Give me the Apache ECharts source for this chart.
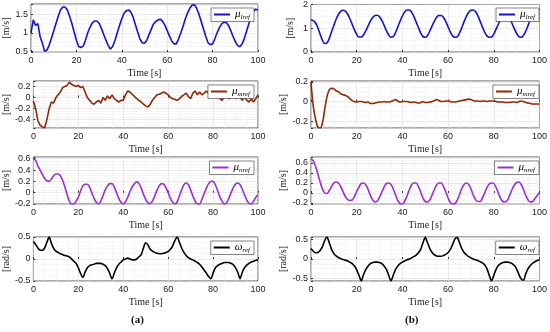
<!DOCTYPE html>
<html><head><meta charset="utf-8">
<script src="https://cdn.jsdelivr.net/npm/echarts@6/dist/echarts.min.js"></script>
<style>html,body{margin:0;padding:0;background:#fff}#c{width:550px;height:332px}</style>
</head><body><div id="c"></div>
<script>
const xTicks = [0, 20, 40, 60, 80, 100];
// (a) left column
const a_mu_l = [1.00,1.35,1.20,1.25,0.90,0.72,0.50,0.53,0.66,0.85,1.05,1.25,1.45,1.62,1.70,1.70,1.62,1.45,1.25,1.02,0.80,0.63,0.60,0.64,0.80,1.00,1.15,1.27,1.32,1.32,1.26,1.12,0.96,0.80,0.66,0.56,0.63,0.80,1.00,1.20,1.38,1.53,1.60,1.62,1.56,1.42,1.22,1.02,0.83,0.73,0.72,0.80,0.95,1.10,1.24,1.31,1.35,1.37,1.31,1.20,1.06,0.91,0.78,0.70,0.70,0.83,1.00,1.18,1.38,1.54,1.67,1.75,1.76,1.66,1.50,1.30,1.10,0.90,0.73,0.68,0.70,0.84,1.00,1.14,1.24,1.29,1.28,1.20,1.06,0.90,0.76,0.66,0.62,0.70,0.85,1.05,1.25,1.44,1.58,1.64,1.62];
const a_mu_m = [-0.06,-0.20,-0.42,-0.50,-0.53,-0.55,-0.40,-0.20,-0.08,-0.10,0.00,0.05,0.10,0.18,0.20,0.22,0.28,0.24,0.22,0.20,0.22,0.18,0.20,0.10,0.00,-0.05,-0.10,-0.12,-0.08,-0.05,-0.10,0.00,-0.05,0.03,-0.02,0.05,-0.02,-0.05,-0.08,-0.05,-0.05,0.05,0.12,0.10,0.06,0.02,-0.02,-0.05,-0.08,-0.12,-0.15,-0.17,-0.12,-0.05,0.00,0.05,0.06,0.08,0.10,0.08,0.05,0.00,-0.02,-0.03,-0.05,-0.02,0.02,0.05,0.08,0.02,-0.02,0.08,0.12,0.05,0.10,0.05,0.08,0.12,0.08,0.10,0.05,0.03,0.02,-0.02,-0.05,0.02,0.05,-0.02,0.00,0.05,-0.02,0.02,0.00,-0.05,0.02,-0.05,-0.08,-0.02,-0.08,-0.02,0.05];
const a_mu_n = [0.60,0.57,0.47,0.40,0.32,0.25,0.21,0.20,0.24,0.30,0.33,0.33,0.30,0.22,0.10,-0.03,-0.15,-0.20,-0.20,-0.15,-0.08,0.03,0.12,0.15,0.15,0.10,0.00,-0.10,-0.17,-0.20,-0.15,-0.05,0.05,0.12,0.16,0.16,0.10,0.00,-0.10,-0.17,-0.20,-0.16,-0.08,0.02,0.10,0.16,0.19,0.16,0.08,-0.03,-0.12,-0.18,-0.19,-0.15,-0.06,0.04,0.12,0.16,0.15,0.09,0.00,-0.10,-0.17,-0.20,-0.16,-0.06,0.05,0.14,0.17,0.14,0.05,-0.06,-0.15,-0.20,-0.20,-0.12,-0.02,0.08,0.16,0.20,0.20,0.14,0.04,-0.07,-0.15,-0.20,-0.18,-0.10,0.00,0.09,0.15,0.17,0.14,0.06,-0.04,-0.13,-0.19,-0.20,-0.15,-0.08,-0.04];
const a_w = [0.40,0.33,0.25,0.20,0.20,0.25,0.38,0.50,0.36,0.24,0.18,0.15,0.12,0.10,0.08,0.07,0.05,0.00,-0.05,-0.10,-0.20,-0.33,-0.42,-0.30,-0.20,-0.15,-0.13,-0.12,-0.10,-0.10,-0.10,-0.12,-0.15,-0.22,-0.33,-0.45,-0.32,-0.20,-0.12,-0.07,-0.02,0.00,0.02,0.00,-0.02,-0.02,0.00,0.05,0.10,0.25,0.37,0.32,0.22,0.18,0.15,0.13,0.12,0.12,0.13,0.15,0.17,0.22,0.30,0.42,0.50,0.38,0.25,0.15,0.08,0.03,0.00,-0.02,-0.05,-0.08,-0.12,-0.18,-0.25,-0.32,-0.40,-0.45,-0.32,-0.20,-0.15,-0.12,-0.10,-0.08,-0.08,-0.08,-0.10,-0.13,-0.20,-0.30,-0.45,-0.30,-0.20,-0.14,-0.10,-0.07,-0.05,-0.03,-0.02];
// (b) right column
const b_mu_l = [1.35,1.32,1.22,1.02,0.75,0.50,0.36,0.38,0.58,0.85,1.12,1.38,1.58,1.71,1.76,1.72,1.60,1.40,1.17,0.93,0.74,0.63,0.63,0.73,0.90,1.10,1.30,1.45,1.54,1.55,1.48,1.33,1.12,0.90,0.72,0.62,0.65,0.82,1.06,1.30,1.52,1.68,1.77,1.77,1.68,1.50,1.27,1.03,0.80,0.65,0.62,0.70,0.88,1.10,1.30,1.46,1.54,1.54,1.45,1.28,1.06,0.84,0.68,0.62,0.64,0.80,1.03,1.28,1.50,1.67,1.76,1.77,1.70,1.53,1.30,1.06,0.84,0.68,0.62,0.63,0.76,0.96,1.18,1.38,1.50,1.55,1.52,1.40,1.20,0.98,0.78,0.65,0.62,0.70,0.88,1.12,1.36,1.56,1.70,1.77,1.78];
const b_mu_m = [0.20,-0.05,-0.18,-0.26,-0.27,-0.22,-0.08,0.05,0.12,0.135,0.13,0.11,0.10,0.08,0.07,0.065,0.05,0.03,0.01,0.00,-0.005,0.00,0.00,-0.005,-0.01,-0.005,-0.02,-0.02,-0.015,-0.01,-0.005,-0.005,0.00,-0.005,-0.005,0.00,0.01,0.02,0.005,-0.005,0.00,0.00,0.00,-0.005,-0.01,-0.005,-0.01,-0.015,-0.01,0.00,-0.01,-0.01,-0.005,0.00,0.01,0.02,0.01,0.00,0.00,0.005,0.005,0.00,-0.005,-0.005,0.00,0.005,0.01,0.015,0.02,0.025,0.02,0.01,0.005,0.005,0.00,0.005,0.005,0.00,0.005,0.005,0.005,0.00,-0.005,-0.005,-0.005,-0.01,-0.01,-0.01,-0.005,-0.005,-0.01,0.00,0.005,0.00,-0.01,-0.015,-0.02,-0.025,-0.025,-0.025,-0.025];
const b_mu_n = [0.68,0.64,0.53,0.38,0.22,0.08,0.00,-0.01,0.05,0.13,0.20,0.22,0.20,0.13,0.03,-0.07,-0.13,-0.15,-0.14,-0.07,0.03,0.12,0.19,0.20,0.16,0.07,-0.05,-0.14,-0.18,-0.16,-0.08,0.02,0.12,0.19,0.20,0.17,0.08,-0.04,-0.15,-0.21,-0.22,-0.16,-0.06,0.06,0.16,0.20,0.20,0.13,0.02,-0.10,-0.17,-0.18,-0.14,-0.04,0.07,0.16,0.20,0.20,0.13,0.02,-0.10,-0.19,-0.22,-0.21,-0.14,-0.03,0.09,0.17,0.20,0.17,0.08,-0.04,-0.13,-0.17,-0.17,-0.10,0.00,0.11,0.18,0.20,0.19,0.11,0.00,-0.11,-0.17,-0.18,-0.14,-0.04,0.07,0.16,0.21,0.22,0.17,0.07,-0.05,-0.14,-0.18,-0.17,-0.11,-0.05,0.01];
const b_w = [0.27,0.20,0.16,0.17,0.22,0.32,0.48,0.57,0.42,0.25,0.14,0.08,0.04,0.01,-0.01,-0.03,-0.05,-0.08,-0.12,-0.18,-0.28,-0.42,-0.57,-0.40,-0.27,-0.18,-0.12,-0.09,-0.08,-0.08,-0.09,-0.12,-0.18,-0.27,-0.42,-0.57,-0.42,-0.27,-0.18,-0.12,-0.08,-0.05,-0.02,0.00,0.03,0.06,0.10,0.16,0.25,0.42,0.56,0.42,0.27,0.17,0.11,0.08,0.07,0.07,0.09,0.12,0.17,0.25,0.38,0.52,0.56,0.42,0.27,0.17,0.11,0.06,0.03,0.00,-0.02,-0.04,-0.07,-0.10,-0.15,-0.25,-0.42,-0.57,-0.42,-0.27,-0.17,-0.12,-0.09,-0.08,-0.08,-0.09,-0.12,-0.17,-0.26,-0.40,-0.52,-0.55,-0.38,-0.25,-0.17,-0.11,-0.07,-0.04,-0.02];

const seriesNames = ['μ|lref','μ|mref','μ|nref','ω|ref'];
const yNames = ['[m/s]','[m/s]','[m/s]','[rad/s]'];
const colors = ['#1414c8','#8c2a0a','#9a30d0','#000000'];

const panels = [
  {col:0,row:0,data:a_mu_l,min:0.48,max:1.78,step:0.5,smooth:false},
  {col:0,row:1,data:a_mu_m,min:-0.55,max:0.30,step:0.2,smooth:false},
  {col:0,row:2,data:a_mu_n,min:-0.2,max:0.63,step:0.2,smooth:0.3},
  {col:0,row:3,data:a_w,min:-0.5,max:0.5,step:0.5,smooth:0.3},
  {col:1,row:0,data:b_mu_l,min:0,max:2,step:1,smooth:0.4},
  {col:1,row:1,data:b_mu_m,min:-0.27,max:0.21,step:0.2,smooth:0.4},
  {col:1,row:2,data:b_mu_n,min:-0.22,max:0.72,step:0.2,smooth:0.4},
  {col:1,row:3,data:b_w,min:-0.57,max:0.57,step:0.5,smooth:0.25}
];
const colLeft = [29, 311], colWidth = [229, 231];
const rowTop = [4, 81, 157, 237], rowH = [48, 47, 47, 44];
const serif = '"Liberation Serif", "DejaVu Serif", serif';
const sans = '"Liberation Sans", Arial, sans-serif';

const grid = [], xAxis = [], yAxis = [], series = [], legend = [];
panels.forEach((p, i) => {
  grid.push({left: colLeft[p.col], top: rowTop[p.row], width: colWidth[p.col], height: rowH[p.row],
    show: true, borderColor: '#2b2b2b', borderWidth: 0.8, backgroundColor: '#fff'});
  xAxis.push({type: 'value', gridIndex: i, min: 0, max: 100, interval: 20,
    name: 'Time [s]', nameLocation: 'middle', nameGap: 16,
    nameTextStyle: {fontFamily: serif, fontSize: 10, color: '#222'},
    axisLine: {show: false}, axisTick: {show: true, inside: true, length: 2, lineStyle: {color: '#333'}},
    axisLabel: {fontFamily: sans, fontSize: 9, color: '#222', margin: 4},
    splitLine: {show: true, lineStyle: {color: '#dcdcdc', width: 0.6}},
    minorTick: {show: false, splitNumber: 4},
    minorSplitLine: {show: true, lineStyle: {color: '#efefef', width: 0.5}}
  });
  const st = p.step;
  const nice = v => Math.abs(v / st - Math.round(v / st)) < 1e-6;
  yAxis.push({type: 'value', gridIndex: i, min: p.min, max: p.max,
    minInterval: st, maxInterval: st, splitNumber: 3,
    name: yNames[p.row], nameLocation: 'middle', nameGap: p.col === 0 ? 20 : 16, nameRotate: 90,
    nameTextStyle: {fontFamily: serif, fontSize: 10, color: '#222'},
    axisLine: {show: false}, axisTick: {show: true, inside: true, length: 2, lineStyle: {color: '#333'}},
    axisLabel: {fontFamily: sans, fontSize: 9, color: '#222', margin: 3,
      formatter: v => nice(v) ? String(Math.round(v / st) * st === 0 ? 0 : +(Math.round(v / st) * st).toFixed(2)) : ''},
    splitLine: {show: true, lineStyle: {color: '#dcdcdc', width: 0.6}},
    minorTick: {show: false, splitNumber: 4},
    minorSplitLine: {show: true, lineStyle: {color: '#efefef', width: 0.5}}
  });
  const nm = (p.col === 0 ? 'a' : 'b') + p.row + ':' + seriesNames[p.row];
  series.push({type: 'line', name: nm, xAxisIndex: i, yAxisIndex: i, symbol: 'none',
    smooth: p.smooth, color: colors[p.row], lineStyle: {width: 1.6, color: colors[p.row]},
    data: p.data.map((v, k) => [k, v])});
  legend.push({data: [nm], right: p.col === 0 ? 296 : 11, top: rowTop[p.row] + 4,
    orient: 'horizontal', backgroundColor: '#fff', borderColor: '#333', borderWidth: 0.6,
    padding: [1, 4, 1, 3], icon: 'rect', itemWidth: 16, itemHeight: 2, itemGap: 3, selectedMode: false,
    formatter: n => { const s = n.split(':')[1].split('|'); return '{g|' + s[0] + '}{s|' + s[1] + '}'; },
    textStyle: {color: '#000', rich: {
      g: {fontFamily: serif, fontStyle: 'italic', fontSize: 11},
      s: {fontFamily: serif, fontStyle: 'italic', fontSize: 7, padding: [5, 0, 0, 0]}
    }}
  });
});

const chart = echarts.init(document.getElementById('c'), null, {renderer: 'canvas'});
chart.setOption({
  animation: false,
  backgroundColor: '#fff',
  grid, xAxis, yAxis, series, legend,
  graphic: [
    {type: 'text', left: 131, top: 315, style: {text: '(a)', font: 'bold 11px ' + serif, fill: '#111'}},
    {type: 'text', left: 405, top: 315, style: {text: '(b)', font: 'bold 11px ' + serif, fill: '#111'}}
  ]
});
</script></body></html>
